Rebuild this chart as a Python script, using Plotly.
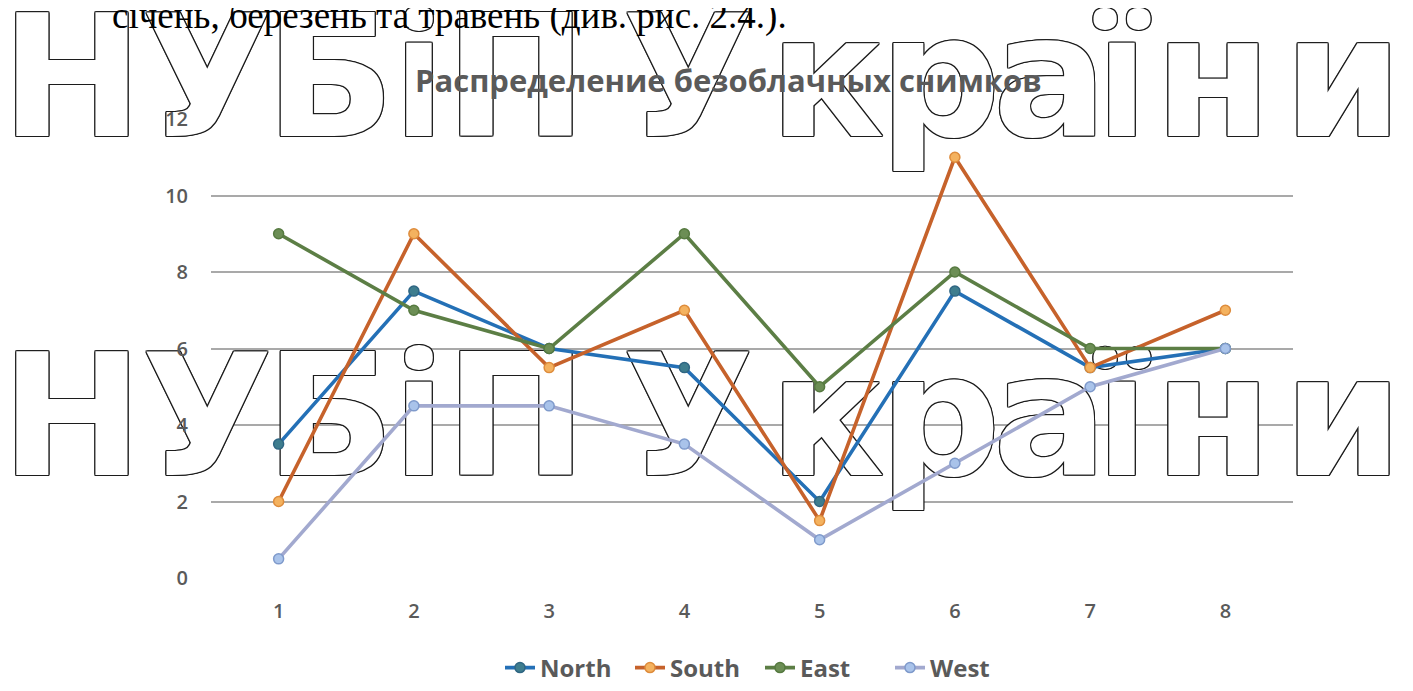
import plotly.graph_objects as go

# ---------------- data ----------------
categories = [1, 2, 3, 4, 5, 6, 7, 8]
north = [3.5, 7.5, 6, 5.5, 2, 7.5, 5.5, 6]
south = [2, 9, 5.5, 7, 1.5, 11, 5.5, 7]
east = [9, 7, 6, 9, 5, 8, 6, 6]
west = [0.5, 4.5, 4.5, 3.5, 1, 3, 5, 6]
series_names = ["North", "South", "East", "West"]
y_ticks = [0, 2, 4, 6, 8, 10, 12]

title_text = "Распределение безоблачных снимков"
top_text = "січень, березень та травень (див. рис. 2.4.)."
watermark_chars = ["Н", "У", "Б", "і", "П", "У", "к", "р", "а", "ї", "н", "и"]

# ---------------- layout / style ----------------
W, H = 1413, 691
OFF = 8  # page body margin of the browser; targets below are screen pixels


def fx(px):
    return (px - OFF) / W


def fy(py):
    return 1 - (py - OFF) / H


plot_l, plot_r, plot_t, plot_b = 211, 1293, 119, 578
wm_x = [72, 207, 330, 419, 516, 688, 827, 940, 1050, 1122, 1213, 1343]
wm_baselines = [136, 475]
wm_size = 170
wm_fonts = ["Open Sans" if ch in ("і", "ї") else "DejaVu Sans" for ch in watermark_chars]

line_colors = ["#2470B6", "#C6622B", "#5C7E45", "#A2A9CF"]
marker_fill = ["#3E7D8E", "#F4B25F", "#6C8E55", "#A9C3EA"]
marker_edge = ["#2F6683", "#DE8C3C", "#567A40", "#7F9ACB"]
gray_text = "#5A5A5A"
grid_color = "#A9A9A9"

fig = go.Figure()

# subplot 1: gridlines only (lowest layer)
fig.add_trace(go.Scatter(x=[], y=[], xaxis="x", yaxis="y", showlegend=False, hoverinfo="skip"))

# subplot 2: watermark text (above grid, below data)
outline = ", ".join(
    f"{dx}px {dy}px 0 #1c1c1c"
    for dx, dy in [(1.2, 0), (-1.2, 0), (0, 1.2), (0, -1.2), (1, 1), (-1, -1), (1, -1), (-1, 1)]
)
wx, wy, wt, wf = [], [], [], []
for base in wm_baselines:
    for cx, ch, fam in zip(wm_x, watermark_chars, wm_fonts):
        wx.append(cx - OFF)
        wy.append(base - OFF - 0.25 * wm_size)
        wt.append(ch)
        wf.append(fam)
fig.add_trace(go.Scatter(
    x=wx, y=wy, text=wt, mode="text", textposition="middle center",
    textfont=dict(family=wf, size=wm_size, color="#ffffff", weight="bold", shadow=outline),
    xaxis="x2", yaxis="y2", showlegend=False, hoverinfo="skip", cliponaxis=False,
))

# subplot 3: data series + tick labels (top layer)
for name, vals, lc, mf, me in zip(series_names, [north, south, east, west], line_colors, marker_fill, marker_edge):
    fig.add_trace(go.Scatter(
        x=categories, y=vals, name=name, mode="lines+markers",
        line=dict(color=lc, width=3.6),
        marker=dict(size=10, color=mf, line=dict(color=me, width=1.5)),
        xaxis="x3", yaxis="y3",
    ))

xdom = [fx(plot_l), fx(plot_r)]
ydom = [fy(plot_b), fy(plot_t)]
xrange_ = [0.5, 8.5]
yrange_ = [0, 12]
tickfont = dict(family="Open Sans", size=20, color=gray_text, weight=600)

fig.update_layout(
    width=W, height=H,
    margin=dict(l=0, r=0, t=0, b=0, autoexpand=False),
    paper_bgcolor="#ffffff",
    plot_bgcolor="rgba(0,0,0,0)",
    font=dict(family="Open Sans", color=gray_text),
    xaxis=dict(domain=xdom, range=xrange_, anchor="y", showgrid=False, zeroline=False,
               showline=False, ticks="", showticklabels=False, automargin=False),
    yaxis=dict(domain=ydom, range=yrange_, anchor="x", tickmode="array", tickvals=y_ticks,
               showgrid=True, gridcolor=grid_color, gridwidth=2, zeroline=False,
               showline=False, ticks="", showticklabels=False, automargin=False),
    xaxis2=dict(domain=[0, 1], range=[0, W], anchor="y2", visible=False, automargin=False),
    yaxis2=dict(domain=[0, 1], range=[H, 0], anchor="x2", visible=False, automargin=False),
    xaxis3=dict(domain=xdom, range=xrange_, anchor="y3", tickmode="array", tickvals=categories,
                ticktext=[str(c) for c in categories], showgrid=False, zeroline=False,
                showline=False, ticks="", ticklabelstandoff=19, tickfont=tickfont,
                automargin=False),
    yaxis3=dict(domain=ydom, range=yrange_, anchor="x3", tickmode="array", tickvals=y_ticks,
                showgrid=False, zeroline=False, showline=False, ticks="",
                ticklabelstandoff=22, tickfont=tickfont, automargin=False),
    showlegend=True,
    legend=dict(orientation="h", x=fx(500), xanchor="left", y=fy(668), yanchor="middle",
                font=dict(family="Open Sans", size=24, color=gray_text, weight="bold"),
                itemwidth=30, entrywidth=85, bgcolor="rgba(0,0,0,0)"),
    annotations=[
        dict(text=title_text, x=fx(728), y=fy(80), xref="paper", yref="paper",
             xanchor="center", yanchor="middle", showarrow=False,
             font=dict(family="Open Sans", size=31, color=gray_text, weight="bold")),
        dict(text=top_text, x=fx(110), y=fy(16), xref="paper", yref="paper",
             xanchor="left", yanchor="middle", showarrow=False,
             font=dict(family="Liberation Serif", size=37, color="#000000")),
    ],
)

fig.write_html("out.html")
